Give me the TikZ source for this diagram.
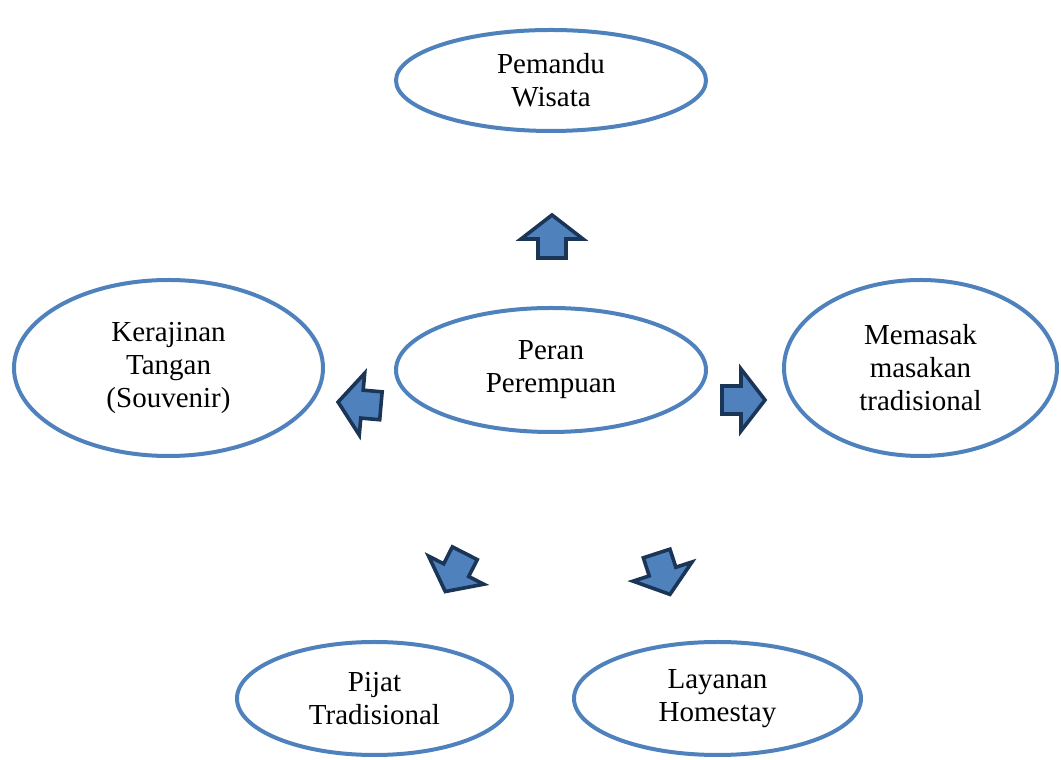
\documentclass[tikz,border=0pt]{standalone}
\usepackage{fontspec}
\setmainfont{Liberation Serif}
\usetikzlibrary{shapes.geometric}
\definecolor{eblue}{HTML}{4F81BD}
\definecolor{adark}{HTML}{1B3557}
\tikzset{
  bubble/.style={ellipse, draw=eblue, line width=4pt, inner sep=0pt, align=center,
    font=\fontsize{29}{33}\selectfont, text=black},
  blockarrow/.style={draw=adark, fill=eblue, line width=3.6pt, line join=miter}
}
\newcommand{\blockarr}[3]{%
  \begin{scope}[shift={(#1,#2)}, rotate=#3]
    \draw[blockarrow] (0,22.5) -- (31,-1.5) -- (14,-1.5) -- (14,-20.5) -- (-14,-20.5) -- (-14,-1.5) -- (-31,-1.5) -- cycle;
  \end{scope}}
\begin{document}
\begin{tikzpicture}[x=1pt,y=1pt]
\useasboundingbox (0,0) rectangle (1061,760);
\node[bubble, minimum width=310pt, minimum height=101pt] (guide) at (551,679.5) {Pemandu\\Wisata};
\node[bubble, minimum width=310pt, minimum height=124pt] (center) at (551,390) {Peran\\Perempuan};
\node[bubble, minimum width=309pt, minimum height=176pt] (craft) at (168.5,392) {Kerajinan\\Tangan\\(Souvenir)};
\node[bubble, minimum width=273pt, minimum height=176pt] (cook) at (920.5,392) {Memasak\\masakan\\tradisional};
\node[bubble, minimum width=275pt, minimum height=113pt] (massage) at (374.5,61.5) {Pijat\\Tradisional};
\node[bubble, minimum width=287pt, minimum height=113pt] (home) at (717.5,61.5) {Layanan\\Homestay};
\blockarr{552}{522.5}{0}
\blockarr{742.5}{360}{-90}
\blockarr{360.5}{356}{85}
\blockarr{455.5}{188.5}{153}
\blockarr{663}{187}{198}
\end{tikzpicture}
\end{document}
